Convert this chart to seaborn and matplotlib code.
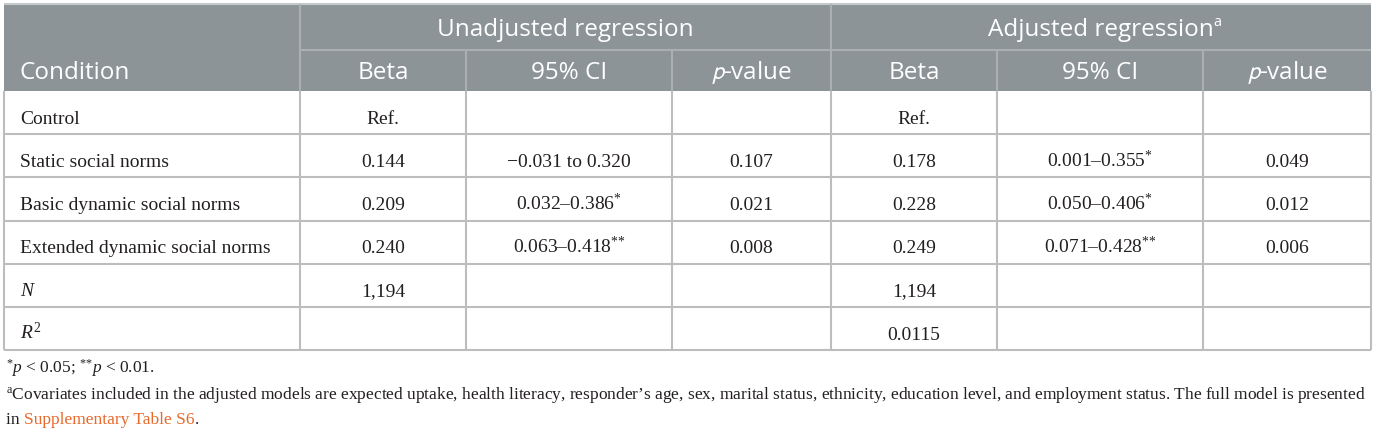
import matplotlib
matplotlib.use("Agg")
import matplotlib.pyplot as plt
from matplotlib.patches import Rectangle
import seaborn as sns

# table content
conditions = ["Control", "Static social norms", "Basic dynamic social norms",
              "Extended dynamic social norms", "$N$", "$R^{2}$"]
unadj_beta = ["Ref.", "0.144", "0.209", "0.240", "1,194", ""]
unadj_ci = ["", "\u22120.031 to 0.320", "0.032\u20130.386$^{*}$", "0.063\u20130.418$^{*{*}}$", "", ""]
unadj_p = ["", "0.107", "0.021", "0.008", "", ""]
adj_beta = ["Ref.", "0.178", "0.228", "0.249", "1,194", "0.0115"]
adj_ci = ["", "0.001\u20130.355$^{*}$", "0.050\u20130.406$^{*}$", "0.071\u20130.428$^{*{*}}$", "", ""]
adj_p = ["", "0.049", "0.012", "0.006", "", ""]

groups = ["Unadjusted regression", "Adjusted regression"]
sub_headers = ["Beta", "95% CI", "$p$-value"]

note1 = "$^{*}p$ < 0.05; $^{*{*}}p$ < 0.01."
note2 = ("$^{\\mathrm{a}}$Covariates included in the adjusted models are expected uptake, health literacy, "
         "responder\u2019s age, sex, marital status, ethnicity, education level, and employment status. "
         "The full model is presented")
note3 = ["in ", "Supplementary Table S6", "."]

sns.set_theme(style="white")
plt.rcParams["mathtext.fontset"] = "custom"
plt.rcParams["mathtext.rm"] = "Liberation Serif"
plt.rcParams["mathtext.it"] = "Liberation Serif:italic"
plt.rcParams["mathtext.bf"] = "Liberation Serif:bold"

HEAD = "#8c9497"
HEAD_LINE = "#aab0b2"
GRID = "#bdbdbd"
INK = "#231f20"
LINK = "#e8692c"

# layout in pixels
xs = [4, 300, 466, 672, 831, 997, 1203, 1371]
top, mid, hbot = 4, 50, 91
row_h = 43.2
bottom = hbot + row_h * len(conditions)

fig = plt.figure(figsize=(13.75, 4.33), dpi=100)
ax = fig.add_axes([0, 0, 1, 1])
ax.set_xlim(0, 1375)
ax.set_ylim(433, 0)
ax.axis("off")

# header block
ax.add_patch(Rectangle((xs[0], top), xs[-1] - xs[0], hbot - top, color=HEAD, lw=0))
ax.hlines(top, xs[0], xs[-1], color="#c4c9ca", lw=1.5)
ax.hlines(mid, xs[1], xs[-1], color=HEAD_LINE, lw=1.5)
for x in [xs[1], xs[4]]:
    ax.vlines(x, top, hbot, color=HEAD_LINE, lw=1.5)
for x in [xs[2], xs[3], xs[5], xs[6]]:
    ax.vlines(x, mid, hbot, color=HEAD_LINE, lw=1.5)

hfont = dict(family="Open Sans", color="white", fontsize=17.5, va="baseline")
ax.text(xs[0] + 16, 79, "Condition", ha="left", **hfont)
for g, (a, b) in enumerate([(xs[1], xs[4]), (xs[4], xs[7])]):
    t = ax.text((a + b) / 2, 36, groups[g], ha="center", **hfont)
    if g == 1:
        ax.annotate("a", xy=(1, 0.8), xycoords=t, ha="left", va="center",
                    family="Open Sans", color="white", fontsize=10.5)
for k in range(6):
    cx = (xs[k + 1] + xs[k + 2]) / 2
    ax.text(cx, 79, sub_headers[k % 3], ha="center",
            math_fontfamily="stixsans", **hfont)

# body grid
for i in range(1, len(conditions) + 1):
    y = hbot + row_h * i
    ax.hlines(y, xs[0], xs[-1], color=GRID, lw=1.5)
for x in xs:
    ax.vlines(x, hbot, bottom, color=GRID, lw=1.5)

bfont = dict(family="Liberation Serif", color=INK, fontsize=14, va="baseline")
columns = [unadj_beta, unadj_ci, unadj_p, adj_beta, adj_ci, adj_p]
for i, name in enumerate(conditions):
    y = hbot + row_h * i + 32.5
    ax.text(xs[0] + 16, y, name, ha="left", **bfont)
    for k, col in enumerate(columns):
        if col[i]:
            ax.text((xs[k + 1] + xs[k + 2]) / 2, y, col[i], ha="center", **bfont)

# footnotes
nfont = dict(family="Liberation Serif", color=INK, fontsize=12.5)
ax.text(6, 373, note1, va="baseline", **nfont)
ax.text(6, 399, note2, va="baseline", **nfont)
t = ax.text(6, 424, note3[0], va="baseline", **nfont)
t = ax.annotate(note3[1], xy=(1, 0), xycoords=t, va="bottom", color=LINK,
                family="Liberation Serif", fontsize=12.5)
ax.annotate(note3[2], xy=(1, 0), xycoords=t, va="bottom", color=INK,
            family="Liberation Serif", fontsize=12.5)

fig.savefig("out.png", dpi=100)
